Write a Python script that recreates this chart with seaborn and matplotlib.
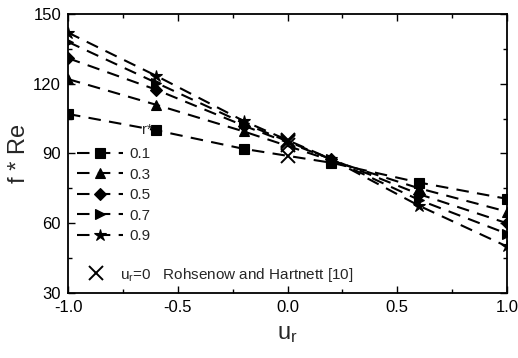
import matplotlib
matplotlib.use("Agg")
import matplotlib.pyplot as plt
from matplotlib.ticker import MultipleLocator, FormatStrFormatter
import seaborn as sns
import pandas as pd

# Velocity ratio u_r at which the solutions were computed
ur = [-1.0, -0.6, -0.2, 0.2, 0.6, 1.0]

# Radius ratio r* of each annulus and its f*Re curve
radius_ratios = ["0.1", "0.3", "0.5", "0.7", "0.9"]
fre_r01 = [107.0, 100.0, 92.0, 86.0, 77.5, 70.5]
fre_r03 = [122.0, 111.0, 99.5, 87.0, 75.0, 65.0]
fre_r05 = [131.0, 117.5, 102.0, 87.5, 72.5, 60.0]
fre_r07 = [138.0, 120.5, 103.0, 87.5, 70.0, 55.5]
fre_r09 = [142.0, 123.5, 104.0, 87.5, 67.5, 50.0]
series = [fre_r01, fre_r03, fre_r05, fre_r07, fre_r09]

# Stationary-wall reference values (u_r = 0)
ref_ur = [0.0, 0.0, 0.0, 0.0, 0.0]
ref_fre = [89.0, 93.5, 95.0, 95.5, 96.0]

markers = ["s", "^", "D", ">", "*"]
marker_sizes = [6.5, 7, 6, 7, 9]

sns.set_theme(style="ticks")
plt.rcParams["font.family"] = ["Liberation Sans", "DejaVu Sans"]
plt.rcParams["mathtext.fontset"] = "custom"
plt.rcParams["mathtext.rm"] = "Liberation Sans"
plt.rcParams["mathtext.it"] = "Liberation Sans"

fig = plt.figure(figsize=(5.18, 3.58), dpi=100)
ax = fig.add_axes([0.1313, 0.1816, 0.8475, 0.7793])

dash = (0, (6.0, 4.0))
for label, vals, m, ms in zip(radius_ratios, series, markers, marker_sizes):
    df = pd.DataFrame({"ur": ur, "fRe": vals})
    sns.lineplot(data=df, x="ur", y="fRe", ax=ax, color="black",
                 linestyle=dash, linewidth=1.5, marker=m, markersize=ms,
                 markeredgecolor="black", markerfacecolor="black",
                 markeredgewidth=0.8, label=label, legend=False,
                 errorbar=None)
series_lines = list(ax.get_lines())

ref_df = pd.DataFrame({"ur": ref_ur, "fRe": ref_fre})
sns.lineplot(data=ref_df, x="ur", y="fRe", ax=ax, color="black",
             linestyle="none", marker="x", markersize=10,
             markeredgecolor="black", markeredgewidth=1.4,
             estimator=None, errorbar=None, legend=False, sort=False)
ref_line = ax.get_lines()[-1]

ax.text(-0.615, 100.3, "r*", ha="right", va="center", fontsize=10.5)

ax.set_xlim(-1.0, 1.0)
ax.set_ylim(30, 150)
ax.xaxis.set_major_locator(MultipleLocator(0.5))
ax.xaxis.set_minor_locator(MultipleLocator(0.25))
ax.xaxis.set_major_formatter(FormatStrFormatter("%.1f"))
ax.yaxis.set_major_locator(MultipleLocator(30))
ax.yaxis.set_minor_locator(MultipleLocator(15))
ax.tick_params(which="both", direction="in", top=True, right=True,
               labelsize=12, colors="black", pad=5)
ax.tick_params(which="major", length=5, width=1.0)
ax.tick_params(which="minor", length=3, width=1.0)
for sp in ax.spines.values():
    sp.set_linewidth(1.3)
    sp.set_color("black")

ax.set_xlabel("$\\mathregular{u_r}$", fontsize=17, labelpad=6)
ax.set_ylabel("f * Re", fontsize=17, labelpad=2)

leg1 = ax.legend(series_lines, radius_ratios, loc="upper left",
                 bbox_to_anchor=(0.0, 0.555), frameon=False, fontsize=11,
                 handlelength=3.0, handletextpad=0.4, labelspacing=0.42,
                 borderaxespad=0.2)
ax.add_artist(leg1)

ax.legend([ref_line], ["$\\mathregular{u_r}$=0   Rohsenow and Hartnett [10]"],
          loc="lower left", bbox_to_anchor=(0.0, 0.0), frameon=False,
          fontsize=11, handlelength=2.4, handletextpad=0.4,
          borderaxespad=0.2, numpoints=1)

fig.savefig("out.png", dpi=100)
